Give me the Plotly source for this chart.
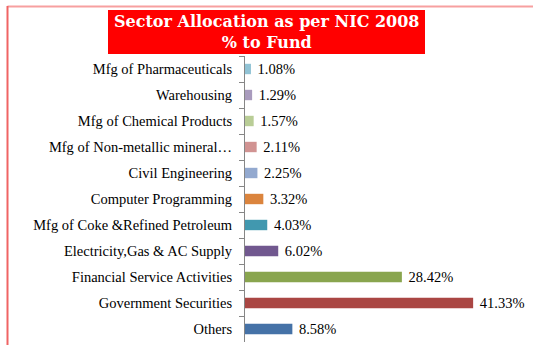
import plotly.graph_objects as go

categories = [
    "Mfg of Pharmaceuticals",
    "Warehousing",
    "Mfg of Chemical Products",
    "Mfg of Non-metallic mineral…",
    "Civil Engineering",
    "Computer Programming",
    "Mfg of Coke &Refined Petroleum",
    "Electricity,Gas & AC Supply",
    "Financial Service Activities",
    "Government Securities",
    "Others",
]
values = [1.08, 1.29, 1.57, 2.11, 2.25, 3.32, 4.03, 6.02, 28.42, 41.33, 8.58]
colors = ["#91C3D5", "#A99BBD", "#B9CD96", "#D19392", "#93A9CF", "#DB843D",
          "#4198AF", "#71588F", "#89A54E", "#AA4643", "#4572A7"]
labels = [f" {v:.2f}%" for v in values]

SERIF = "Liberation Serif, Times New Roman, serif"

W, H = 533, 345
ML, MR, MT, MB = 245, 10, 56, 3
PW, PH = W - ML - MR, H - MT - MB

def px(x):
    return (x - ML) / PW

def py(y):
    return 1 - (y - MT) / PH

fig = go.Figure()
fig.add_trace(go.Bar(
    y=categories, x=values, orientation="h",
    marker=dict(color=colors, line=dict(width=0)),
    text=labels, textposition="outside", constraintext="none",
    textfont=dict(family=SERIF, size=14.5, color="#000000"),
    cliponaxis=False, width=0.4,
))

fig.update_layout(
    width=W, height=H,
    margin=dict(l=ML, r=MR, t=MT, b=MB),
    paper_bgcolor="white", plot_bgcolor="white",
    showlegend=False,
    xaxis=dict(range=[0, PW / 5.52], visible=False, showgrid=False, zeroline=False),
    yaxis=dict(autorange="reversed", showline=True, linecolor="#868686", linewidth=1,
               ticks="outside", tickson="boundaries", ticklen=5, tickcolor="#868686",
               ticklabelstandoff=9,
               tickfont=dict(family=SERIF, size=14.5, color="#000000"),
               showgrid=False),
    shapes=[
        dict(type="line", xref="paper", yref="paper", x0=px(7.5), x1=px(533), y0=py(6.5), y1=py(6.5),
             line=dict(color="#F7A0A0", width=2)),
        dict(type="line", xref="paper", yref="paper", x0=px(7.5), x1=px(7.5), y0=py(6), y1=py(345),
             line=dict(color="#F06464", width=2)),
        dict(type="rect", xref="paper", yref="paper", x0=px(108), x1=px(425), y0=py(10), y1=py(54),
             fillcolor="#FF0000", line=dict(width=0)),
    ],
    annotations=[
        dict(xref="paper", yref="paper", x=px(267), y=py(32), xanchor="center", yanchor="middle",
             text="<b>Sector Allocation as per NIC 2008<br>% to Fund</b>", showarrow=False,
             font=dict(family="DejaVu Serif", size=16, color="white")),
    ],
)

fig.write_html("out.html")
